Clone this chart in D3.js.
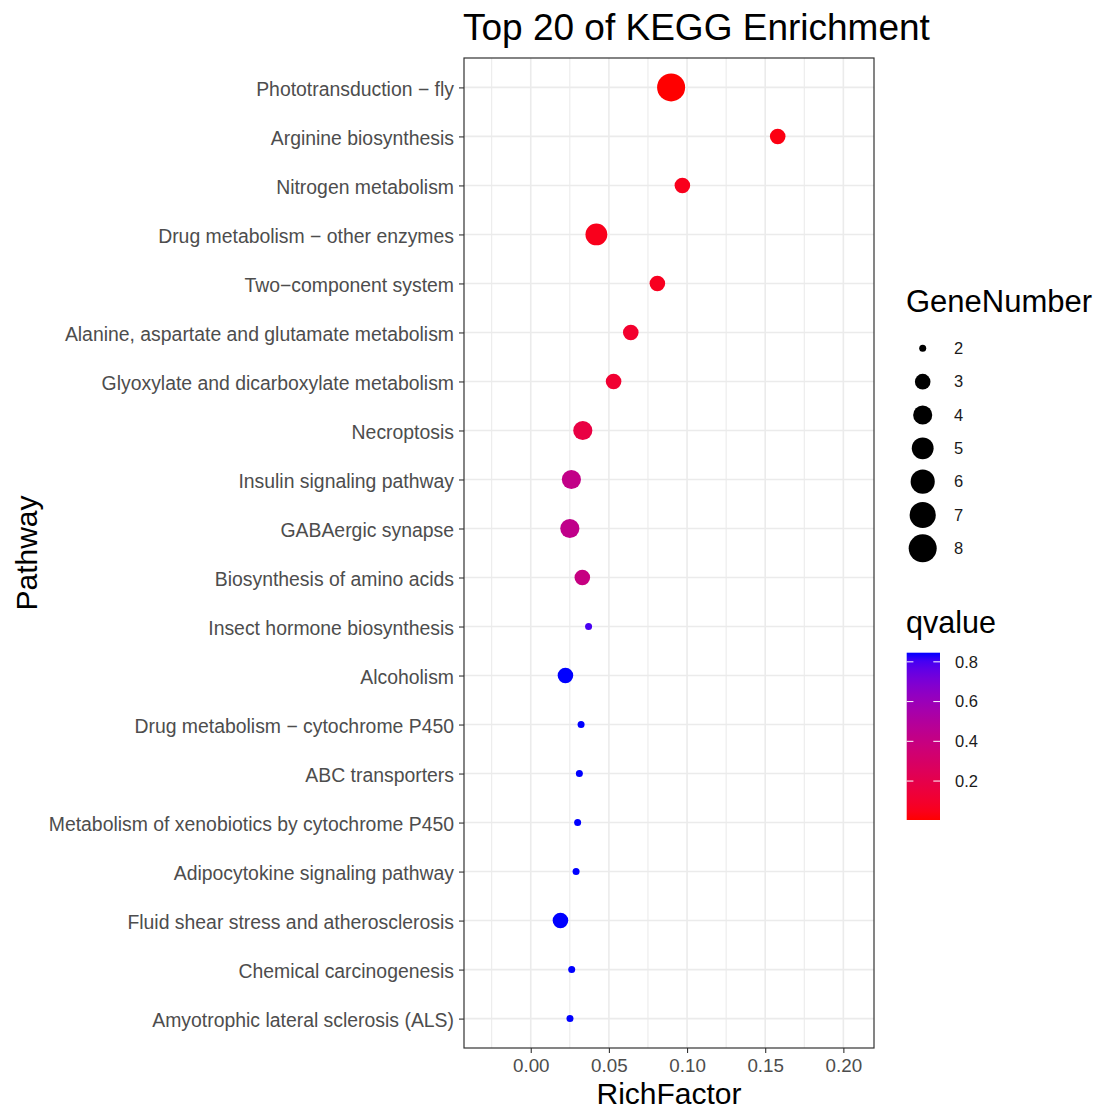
<!DOCTYPE html>
<html>
<head>
<meta charset="utf-8">
<script src="https://cdn.jsdelivr.net/npm/d3@7"></script>
<style>
  html, body { margin: 0; padding: 0; background: #fff; }
  svg { display: block; font-family: "Liberation Sans", Arial, Helvetica, sans-serif; }
</style>
</head>
<body>
<svg id="chart" width="1099" height="1111"></svg>
<script>
// ---------------- data ----------------
const pathways = [
  "Phototransduction \u2212 fly",
  "Arginine biosynthesis",
  "Nitrogen metabolism",
  "Drug metabolism \u2212 other enzymes",
  "Two\u2212component system",
  "Alanine, aspartate and glutamate metabolism",
  "Glyoxylate and dicarboxylate metabolism",
  "Necroptosis",
  "Insulin signaling pathway",
  "GABAergic synapse",
  "Biosynthesis of amino acids",
  "Insect hormone biosynthesis",
  "Alcoholism",
  "Drug metabolism \u2212 cytochrome P450",
  "ABC transporters",
  "Metabolism of xenobiotics by cytochrome P450",
  "Adipocytokine signaling pathway",
  "Fluid shear stress and atherosclerosis",
  "Chemical carcinogenesis",
  "Amyotrophic lateral sclerosis (ALS)"
];
const richFactor = [0.0898, 0.158, 0.097, 0.042, 0.081, 0.064, 0.053, 0.0333, 0.026, 0.025,
                    0.033, 0.037, 0.0222, 0.0322, 0.0311, 0.030, 0.029, 0.019, 0.0262, 0.0251];
const geneNumber = [8, 3, 3, 5, 3, 3, 3, 4, 4, 4, 3, 2, 3, 2, 2, 2, 2, 3, 2, 2];
const qvalue = [0.004, 0.03, 0.05, 0.05, 0.06, 0.10, 0.11, 0.17, 0.42, 0.43,
                0.40, 0.80, 0.846, 0.846, 0.846, 0.846, 0.846, 0.846, 0.846, 0.846];
const xTicks = [0.00, 0.05, 0.10, 0.15, 0.20];
const xMinor = [-0.025, 0.025, 0.075, 0.125, 0.175];
const sizeBreaks = [2, 3, 4, 5, 6, 7, 8];
const qTicks = [0.2, 0.4, 0.6, 0.8];
const titleText = "Top 20 of KEGG Enrichment";

// ---------------- layout ----------------
const svg = d3.select("#chart");
const W = 1099, H = 1111;
svg.append("rect").attr("width", W).attr("height", H).attr("fill", "#fff");

const P = { left: 464, right: 874, top: 58, bottom: 1048 };

const x = d3.scaleLinear().domain([-0.0427, 0.2196]).range([P.left, P.right]);
const y = d3.scalePoint().domain(pathways).range([P.top, P.bottom]).padding(0.6);

const gMin = d3.min(sizeBreaks), gMax = d3.max(sizeBreaks);
const rLin = d3.scaleLinear().domain([0, 1]).range([3.5, 14]);
const r = v => rLin(Math.sqrt((v - gMin) / (gMax - gMin)));

const qExt = d3.extent(qvalue);
const color = d3.scaleLinear().domain(qExt).range(["red", "blue"]).interpolate(d3.interpolateLab);

// ---------------- grid ----------------
const grid = svg.append("g");
grid.selectAll(".minor").data(xMinor).join("line")
  .attr("x1", d => x(d)).attr("x2", d => x(d))
  .attr("y1", P.top).attr("y2", P.bottom)
  .attr("stroke", "#EBEBEB").attr("stroke-width", 1.1);
grid.selectAll(".majx").data(xTicks).join("line")
  .attr("x1", d => x(d)).attr("x2", d => x(d))
  .attr("y1", P.top).attr("y2", P.bottom)
  .attr("stroke", "#EBEBEB").attr("stroke-width", 1.6);
grid.selectAll(".majy").data(pathways).join("line")
  .attr("x1", P.left).attr("x2", P.right)
  .attr("y1", d => y(d)).attr("y2", d => y(d))
  .attr("stroke", "#EBEBEB").attr("stroke-width", 1.6);

// ---------------- points ----------------
const data = pathways.map((p, i) => ({ p, rf: richFactor[i], g: geneNumber[i], q: qvalue[i] }));
svg.append("g").selectAll("circle").data(data).join("circle")
  .attr("cx", d => x(d.rf)).attr("cy", d => y(d.p))
  .attr("r", d => r(d.g))
  .attr("fill", d => color(d.q));

// panel border
svg.append("rect")
  .attr("x", P.left).attr("y", P.top)
  .attr("width", P.right - P.left).attr("height", P.bottom - P.top)
  .attr("fill", "none").attr("stroke", "#333333").attr("stroke-width", 1.2);

// ---------------- axes ----------------
const xAxis = d3.axisBottom(x).tickValues(xTicks).tickFormat(d3.format(".2f"))
  .tickSizeInner(5).tickSizeOuter(0).tickPadding(6);
const gx = svg.append("g").attr("transform", `translate(0,${P.bottom})`).call(xAxis);
gx.select(".domain").remove();
gx.selectAll(".tick line").attr("stroke", "#333333").attr("stroke-width", 1.1);
gx.selectAll(".tick text").attr("fill", "#4D4D4D").attr("font-size", "18.8px")
  .attr("font-family", "Liberation Sans, Arial, sans-serif");

const yAxis = d3.axisLeft(y).tickSizeInner(5).tickSizeOuter(0).tickPadding(5);
const gy = svg.append("g").attr("transform", `translate(${P.left},0)`).call(yAxis);
gy.select(".domain").remove();
gy.selectAll(".tick line").attr("stroke", "#333333").attr("stroke-width", 1.1);
gy.selectAll(".tick text").attr("fill", "#4D4D4D").attr("font-size", "19.4px")
  .attr("dy", "0.4em")
  .attr("font-family", "Liberation Sans, Arial, sans-serif");

// ---------------- titles ----------------
svg.append("text").attr("x", P.left - 1).attr("y", 40)
  .attr("font-size", "37px").attr("fill", "#000").text(titleText);

svg.append("text").attr("x", (P.left + P.right) / 2).attr("y", 1104)
  .attr("text-anchor", "middle").attr("font-size", "30px").attr("fill", "#000")
  .text("RichFactor");

svg.append("text").attr("transform", `translate(37,${(P.top + P.bottom) / 2}) rotate(-90)`)
  .attr("text-anchor", "middle").attr("font-size", "30px").attr("fill", "#000")
  .text("Pathway");

// ---------------- size legend ----------------
const lg = svg.append("g");
lg.append("text").attr("x", 906).attr("y", 311.5).attr("font-size", "31px").attr("fill", "#000")
  .text("GeneNumber");
const keyY = d3.scalePoint().domain(sizeBreaks).range([348.3, 548.3]);
lg.selectAll("circle").data(sizeBreaks).join("circle")
  .attr("cx", 922.7).attr("cy", d => keyY(d)).attr("r", d => r(d)).attr("fill", "#000");
lg.selectAll(".lab").data(sizeBreaks).join("text")
  .attr("x", 954).attr("y", d => keyY(d)).attr("dy", "0.35em")
  .attr("font-size", "16.5px").attr("fill", "#1a1a1a").text(d => d);

// ---------------- colour legend ----------------
const cb = { x: 906.7, w: 33.3, top: 652.7, bottom: 820 };
svg.append("text").attr("x", 906).attr("y", 633).attr("font-size", "30.5px").attr("fill", "#000")
  .text("qvalue");
const defs = svg.append("defs");
const grad = defs.append("linearGradient").attr("id", "qgrad")
  .attr("x1", 0).attr("y1", 1).attr("x2", 0).attr("y2", 0);
d3.range(0, 1.0001, 0.05).forEach(t => {
  grad.append("stop").attr("offset", t)
    .attr("stop-color", color(qExt[0] + t * (qExt[1] - qExt[0])));
});
svg.append("rect").attr("x", cb.x).attr("y", cb.top).attr("width", cb.w)
  .attr("height", cb.bottom - cb.top).attr("fill", "url(#qgrad)");
const qy = d3.scaleLinear().domain(qExt).range([cb.bottom, cb.top]);
const cbt = svg.append("g");
cbt.selectAll(".tl").data(qTicks).join("line")
  .attr("x1", cb.x).attr("x2", cb.x + 6.7).attr("y1", d => qy(d)).attr("y2", d => qy(d))
  .attr("stroke", "#fff").attr("stroke-width", 1);
cbt.selectAll(".tr").data(qTicks).join("line")
  .attr("x1", cb.x + cb.w - 6.7).attr("x2", cb.x + cb.w).attr("y1", d => qy(d)).attr("y2", d => qy(d))
  .attr("stroke", "#fff").attr("stroke-width", 1);
cbt.selectAll("text").data(qTicks).join("text")
  .attr("x", 955).attr("y", d => qy(d)).attr("dy", "0.35em")
  .attr("font-size", "16.5px").attr("fill", "#1a1a1a").text(d => d3.format(".1f")(d));
</script>
</body>
</html>
